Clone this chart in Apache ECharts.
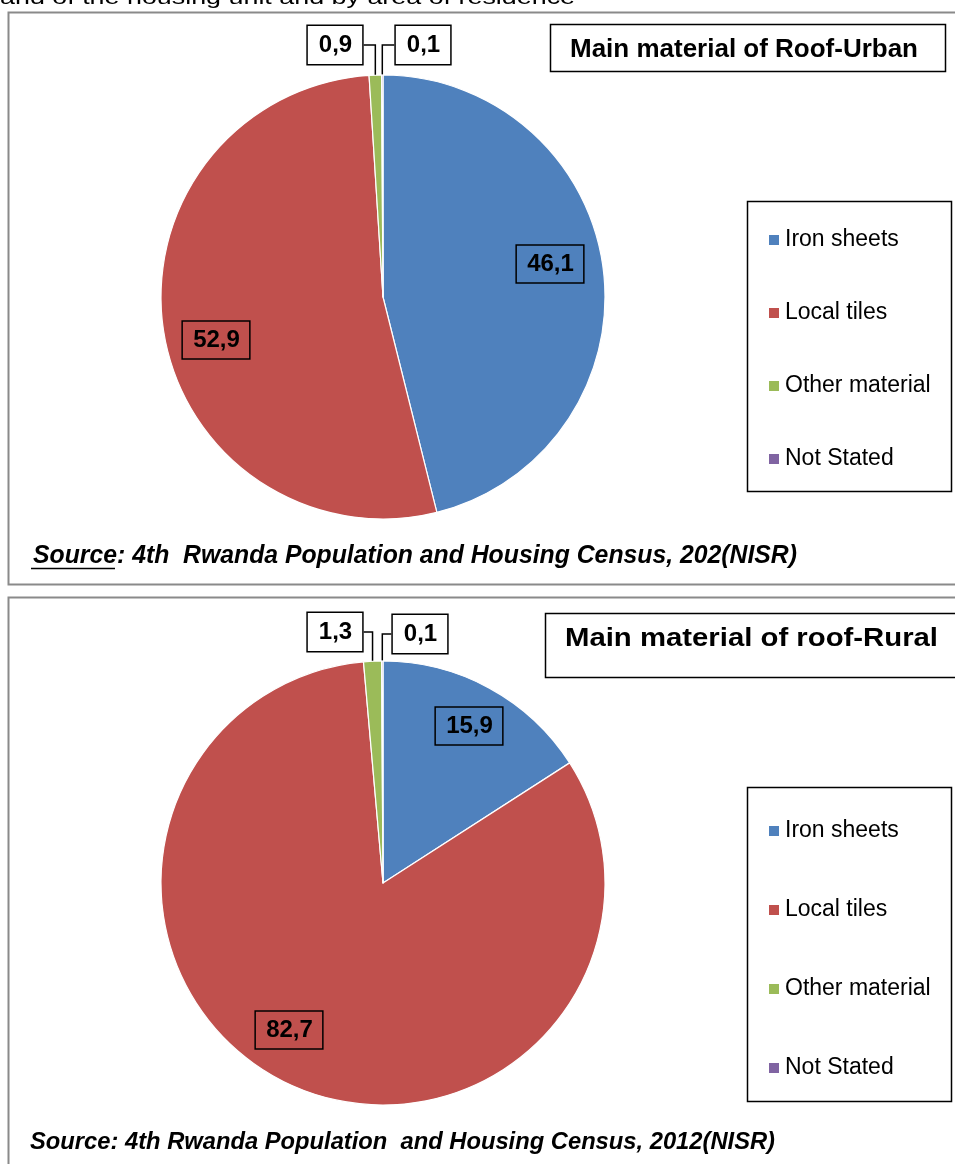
<!DOCTYPE html>
<html><head><meta charset="utf-8">
<script src="https://cdn.jsdelivr.net/npm/echarts@6/dist/echarts.min.js"></script>
<style>html,body{margin:0;padding:0;background:#fff;overflow:hidden}#c{width:955px;height:1164px}</style>
</head><body><div id="c"></div>
<script>
// ---------- data ----------
const categories = ['Iron sheets', 'Local tiles', 'Other material', 'Not Stated'];
const urbanValues = [46.1, 52.9, 0.9, 0.1];
const ruralValues = [15.9, 82.7, 1.3, 0.1];
const chartTitles = ['Main material of Roof-Urban', 'Main material of roof-Rural'];
const sourceTexts = [
  'Source: 4th  Rwanda Population and Housing Census, 202(NISR)',
  'Source: 4th Rwanda Population  and Housing Census, 2012(NISR)'
];
const headerText = 'and of the housing unit and by area of residence';
const colors = ['#4F81BD', '#C0504D', '#9BBB59', '#8064A2'];

// ---------- layout ----------
const seriesValues = [urbanValues, ruralValues];
const pieLayout = [
  { center: [383, 297], r: 222, labels: [[550, 264], [216, 340], [335, 45], [423, 45]], outside: [false, false, true, true] },
  { center: [383, 883], r: 222, labels: [[469, 726], [289, 1030], [335, 632], [420, 634]], outside: [false, false, true, true] }
];

const ctx = document.createElement('canvas').getContext('2d');
function measure(str, font) { ctx.font = font; return ctx.measureText(str).width; }
function fitText(str, left, centerY, width, fontSize, family, weight, style) {
  const font = style + ' ' + weight + ' ' + fontSize + 'px ' + family;
  const w = measure(str, font);
  const sx = width / w;
  return {
    el: {
      type: 'text', x: left, y: centerY, scaleX: sx, silent: true,
      style: { text: str, x: 0, y: 0, fontSize: fontSize, fontFamily: family, fontWeight: weight, fontStyle: style,
        fill: '#000', align: 'left', verticalAlign: 'middle' }
    },
    scale: sx, font: font
  };
}

const NARROW = '"Liberation Sans Narrow", "Arial Narrow", "Liberation Sans", sans-serif';
const SANS = '"Liberation Sans", Arial, sans-serif';

const graphics = [];
// panels
graphics.push({ type: 'rect', silent: true, shape: { x: 8.5, y: 12.5, width: 980, height: 572 }, style: { fill: 'none', stroke: '#8a8a8a', lineWidth: 2 } });
graphics.push({ type: 'rect', silent: true, shape: { x: 8.5, y: 597.5, width: 980, height: 620 }, style: { fill: 'none', stroke: '#8a8a8a', lineWidth: 2 } });
// header (cut off at the top)
graphics.push(fitText(headerText, 0, -2, 575, 21, SANS, 'normal', 'normal').el);
// title boxes
graphics.push({ type: 'rect', silent: true, shape: { x: 550.5, y: 24.5, width: 395, height: 47 }, style: { fill: '#fff', stroke: '#000', lineWidth: 1.5 } });
graphics.push({ type: 'rect', silent: true, shape: { x: 545.5, y: 613.5, width: 430, height: 64 }, style: { fill: '#fff', stroke: '#000', lineWidth: 1.5 } });
graphics.push(fitText(chartTitles[0], 570, 50, 348, 25, NARROW, 'bold', 'normal').el);
graphics.push(fitText(chartTitles[1], 565, 639, 373, 25, SANS, 'bold', 'normal').el);
// legend boxes
graphics.push({ type: 'rect', silent: true, shape: { x: 747.5, y: 201.5, width: 204, height: 290 }, style: { fill: 'none', stroke: '#000', lineWidth: 1.5 } });
graphics.push({ type: 'rect', silent: true, shape: { x: 747.5, y: 787.5, width: 204, height: 314 }, style: { fill: 'none', stroke: '#000', lineWidth: 1.5 } });
// sources
const src1 = fitText(sourceTexts[0], 33, 556, 764, 25, NARROW, 'bold', 'italic');
graphics.push(src1.el);
const uw = measure('Source', src1.font) * src1.scale;
graphics.push({ type: 'line', silent: true, shape: { x1: 31, y1: 568.5, x2: 31 + uw, y2: 568.5 }, style: { stroke: '#000', lineWidth: 1.5 } });
graphics.push(fitText(sourceTexts[1], 30, 1143, 745, 23, NARROW, 'bold', 'italic').el);

function makeLabelLayout(params) {
  const P = pieLayout[params.seriesIndex];
  const i = params.dataIndex;
  const pos = P.labels[i];
  const res = { x: pos[0], y: pos[1], align: 'center', verticalAlign: 'middle' };
  if (P.outside[i]) {
    const vals = seriesValues[params.seriesIndex];
    const total = vals.reduce((a, b) => a + b, 0);
    let cum = 0;
    for (let k = 0; k < i; k++) cum += vals[k];
    const theta = (cum + vals[i] / 2) / total * 2 * Math.PI;
    const ex = P.center[0] + P.r * Math.sin(theta);
    const ey = P.center[1] - P.r * Math.cos(theta);
    const hw = params.labelRect.width / 2;
    const endX = pos[0] < ex ? pos[0] + hw : pos[0] - hw;
    res.labelLinePoints = [[ex, ey], [ex, pos[1]], [endX, pos[1]]];
  }
  return res;
}

function pieSeries(idx) {
  const P = pieLayout[idx];
  const values = seriesValues[idx];
  return {
    type: 'pie', center: P.center, radius: P.r, startAngle: 90, clockwise: true,
    avoidLabelOverlap: false, animation: false, silent: true,
    emphasis: { disabled: true },
    itemStyle: { borderColor: '#fff', borderWidth: 1.2 },
    label: {
      show: true, position: 'inside',
      formatter: p => p.value.toFixed(1).replace('.', ','),
      fontSize: 24, fontWeight: 'bold', fontFamily: SANS, color: '#000',
      borderColor: '#000', borderWidth: 1.5, padding: [7, 10, 7, 11], lineHeight: 24
    },
    labelLine: { show: false },
    data: values.map((v, i) => P.outside[i]
      ? { name: categories[i], value: v, label: { position: 'outside', backgroundColor: '#fff' },
          labelLine: { show: true, length: 10, length2: 10, smooth: false, lineStyle: { color: '#000', width: 1.5 } } }
      : { name: categories[i], value: v }),
    labelLayout: makeLabelLayout
  };
}

function makeLegend(top, gap) {
  return {
    orient: 'vertical', left: 767, top: top, itemGap: gap, itemWidth: 12, itemHeight: 12,
    icon: 'rect', data: categories, selectedMode: false, padding: 0,
    textStyle: { fontSize: 23, fontFamily: SANS, color: '#000', lineHeight: 24 }
  };
}

const chart = echarts.init(document.getElementById('c'), null, { renderer: 'canvas' });
chart.setOption({
  backgroundColor: '#fff',
  animation: false,
  color: colors,
  legend: [makeLegend(228, 49), makeLegend(819, 55)],
  series: [pieSeries(0), pieSeries(1)],
  graphic: { elements: graphics }
});
</script></body></html>
